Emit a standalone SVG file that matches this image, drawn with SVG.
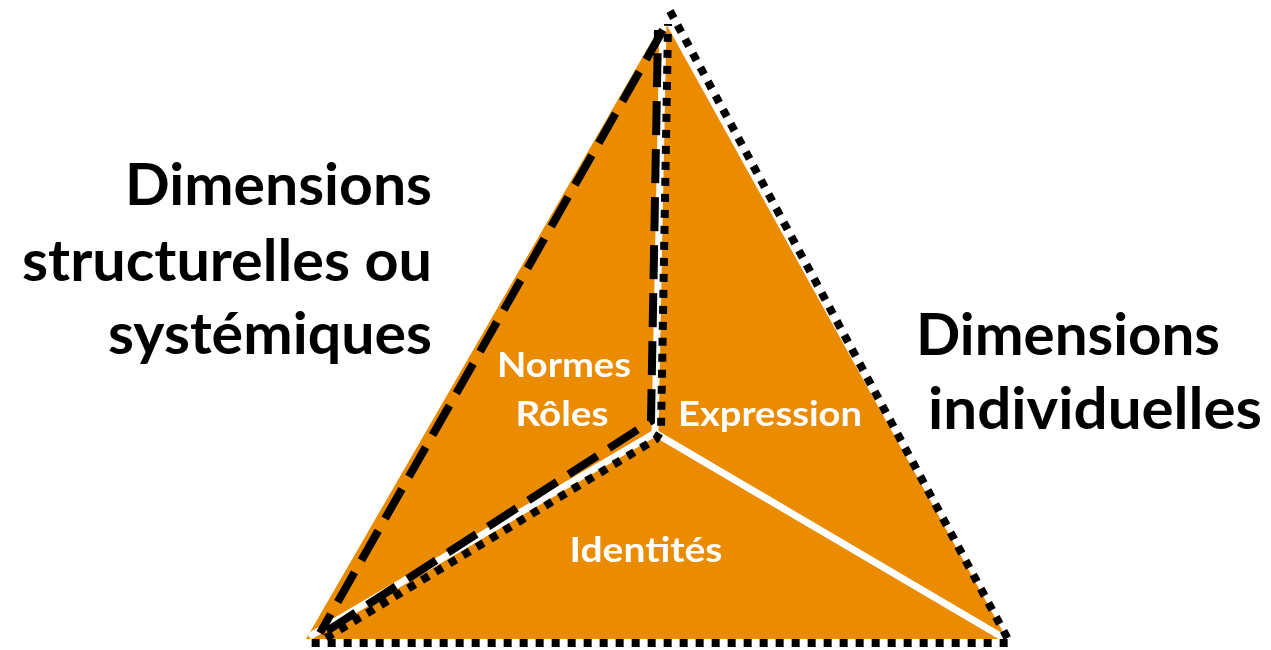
<svg xmlns="http://www.w3.org/2000/svg" width="1271" height="650" viewBox="0 0 1271 650">
<style>
.outer{font-family:Lato,"Liberation Sans",sans-serif;font-weight:bold;font-size:57px;fill:#000}
.inner{font-family:Lato,"Liberation Sans",sans-serif;font-weight:bold;font-size:34px;fill:#fff}
.white{stroke:#fff;stroke-width:7;fill:none;stroke-linecap:round}
.dash{stroke:#000;stroke-width:8;fill:none;stroke-dasharray:34 14}
.dot{stroke:#000;stroke-width:8;fill:none;stroke-dasharray:8 8}
</style>
<defs>
<filter id="soft" x="-10%" y="-30%" width="120%" height="160%"><feGaussianBlur stdDeviation="0.7"/></filter>
</defs>
<rect width="1271" height="650" fill="#fff"/>
<g id="pyramid">
<polygon points="664,20 306,639 1007,639" fill="#EB8B00"/>
<g id="edges-white">
<line class="white" x1="655" y1="433" x2="663" y2="24"/>
<line class="white" x1="655" y1="433" x2="312" y2="635"/>
<line class="white" x1="655" y1="433" x2="1002" y2="637"/>
</g>
</g>
<g id="connectors">
<path class="dash" d="M663 30 L320 633 M327 631 L651 421 L658 30"/>
<path class="dot" d="M670 11 L1010 643 L306 643 M326 638 L656 439 L661 431 L668 24"/>
</g>
<g id="node-normes-roles">
<text class="inner" x="564" y="377" text-anchor="middle" textLength="134" lengthAdjust="spacingAndGlyphs" filter="url(#soft)">Normes</text>
<text class="inner" x="562" y="426" text-anchor="middle" textLength="93" lengthAdjust="spacingAndGlyphs" filter="url(#soft)">Rôles</text>
</g>
<g id="node-expression">
<text class="inner" x="770" y="426" text-anchor="middle" textLength="184" lengthAdjust="spacingAndGlyphs" filter="url(#soft)">Expression</text>
</g>
<g id="node-identites">
<text class="inner" x="646" y="562" text-anchor="middle" textLength="153" lengthAdjust="spacingAndGlyphs" filter="url(#soft)">Identités</text>
</g>
<g id="label-structurelles">
<text class="outer" x="432" y="205" text-anchor="end" textLength="307" lengthAdjust="spacingAndGlyphs">Dimensions</text>
<text class="outer" x="432" y="281" text-anchor="end" textLength="410" lengthAdjust="spacingAndGlyphs">structurelles ou</text>
<text class="outer" x="432" y="354" text-anchor="end" textLength="324" lengthAdjust="spacingAndGlyphs">systémiques</text>
</g>
<g id="label-individuelles">
<text class="outer" x="916" y="355" textLength="304" lengthAdjust="spacingAndGlyphs">Dimensions</text>
<text class="outer" x="928" y="429" textLength="334" lengthAdjust="spacingAndGlyphs">individuelles</text>
</g>
</svg>
